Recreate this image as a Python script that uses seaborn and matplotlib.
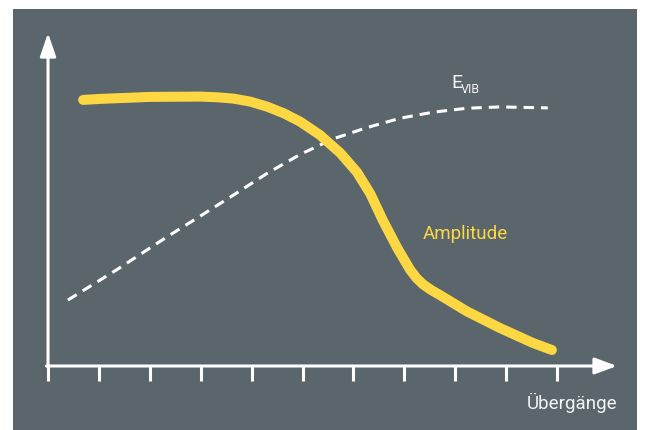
import matplotlib
matplotlib.use('Agg')
import matplotlib.pyplot as plt
from matplotlib import font_manager
import seaborn as sns

# Amplitude curve (yellow)
amp_x = [0.69, 1.02, 2.0, 2.99, 3.32, 3.64, 3.97, 4.3, 4.63, 4.95, 5.34,
         5.74, 6.07, 6.33, 6.58, 6.86, 7.11, 7.24, 7.37, 7.53, 7.7, 8.23,
         8.88, 9.53, 9.9]
amp_y = [7.99, 8.02, 8.08, 8.09, 8.07, 8.03, 7.94, 7.79, 7.59, 7.34, 6.94,
         6.4, 5.82, 5.18, 4.37, 3.55, 2.9, 2.64, 2.45, 2.28, 2.13, 1.64,
         1.14, 0.69, 0.48]

# E_VIB curve (white dashed)
evib_x = [0.39, 1.36, 2.34, 2.99, 3.64, 4.3, 4.95, 5.6, 6.27, 6.92, 7.56,
          8.23, 8.88, 9.82]
evib_y = [1.98, 2.9, 3.88, 4.5, 5.13, 5.78, 6.35, 6.82, 7.16, 7.44, 7.62,
          7.74, 7.78, 7.75]

ticks = list(range(11))

BG = '#5a656c'
YELLOW = '#fdd843'
WHITE = '#f4f4f4'

available = {f.name for f in font_manager.fontManager.ttflist}
fam = next(f for f in ['Liberation Sans Narrow', 'Roboto', 'DejaVu Sans']
           if f in available)

fig = plt.figure(figsize=(6.45, 4.3), dpi=100, facecolor='white')
ax = fig.add_axes([13 / 645, 0, 624 / 645, 421 / 430])
ax.set_facecolor(BG)
ax.set_xlim(-0.688, 11.572)
ax.set_ylim(-1.922, 10.72)
ax.set_xticks([])
ax.set_yticks([])
for s in ax.spines.values():
    s.set_visible(False)

# axes with arrow heads
ax.annotate('', xy=(11.18, 0), xytext=(-0.03, 0),
            arrowprops=dict(arrowstyle='-|>,head_length=1.35,head_width=0.5',
                            color='white', lw=2.2, shrinkA=0, shrinkB=0,
                            mutation_scale=10))
ax.annotate('', xy=(0, 10), xytext=(0, -0.03),
            arrowprops=dict(arrowstyle='-|>,head_length=1.4,head_width=0.48',
                            color='white', lw=2.2, shrinkA=0, shrinkB=0,
                            mutation_scale=10))
ax.vlines(ticks, -0.45, 0, color='white', lw=2.2)

sns.lineplot(x=evib_x, y=evib_y, ax=ax, color='white', lw=2.2,
             linestyle=(0, (3.4, 2.3)), estimator=None)
sns.lineplot(x=amp_x, y=amp_y, ax=ax, color=YELLOW, lw=7.2,
             solid_capstyle='round', solid_joinstyle='round', estimator=None)

ax.text(11.18, -1.29, 'Übergänge', ha='right', va='baseline', color=WHITE,
        fontsize=13.5, family=fam)
ax.text(7.37, 3.81, 'Amplitude', ha='left', va='baseline', color=YELLOW,
        fontsize=13.5, family=fam)
ax.text(7.92, 8.35, 'E', ha='left', va='baseline', color=WHITE,
        fontsize=14, family=fam)
ax.text(8.11, 8.2, 'VIB', ha='left', va='baseline', color=WHITE,
        fontsize=9, family=fam)

fig.savefig('out.png', dpi=100, facecolor='white')
